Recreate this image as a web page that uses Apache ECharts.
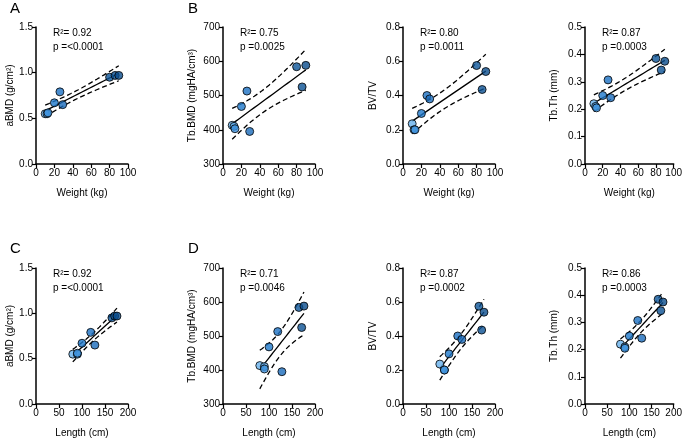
<!DOCTYPE html>
<html><head><meta charset="utf-8">
<script src="https://cdn.jsdelivr.net/npm/echarts@6/dist/echarts.min.js"></script>
<style>html,body{margin:0;padding:0;background:#fff}#c{width:685px;height:439px}</style>
</head><body><div id="c"></div>
<script>
// ---- data (one entry per subject) ----
const weight = [10, 12, 13, 20, 26, 29, 80, 86, 90];
const lengthCm = [80, 90, 90, 100, 119, 128, 165, 171, 176];
const aBMD = [0.55, 0.55, 0.56, 0.67, 0.79, 0.65, 0.95, 0.97, 0.97];
const tbBMD = [413, 410, 403, 468, 513, 395, 584, 525, 588];
const bvtv = [0.235, 0.20, 0.20, 0.295, 0.40, 0.38, 0.575, 0.435, 0.54];
const tbTh = [0.22, 0.21, 0.205, 0.25, 0.307, 0.242, 0.385, 0.343, 0.375];

const r2Weight = ['0.92', '0.75', '0.80', '0.87'];
const pWeight = ['<0.0001', '0.0025', '0.0011', '0.0003'];
const r2Length = ['0.92', '0.71', '0.87', '0.86'];
const pLength = ['<0.0001', '0.0046', '0.0002', '0.0003'];

const panelLetters = ['A', 'B', 'C', 'D'];
const xNames = ['Weight (kg)', 'Length (cm)'];
const yNames = ['aBMD (g/cm²)', 'Tb.BMD (mgHA/cm³)', 'BV/TV', 'Tb.Th (mm)'];

// ---- style ----
const pointColors = ['#66B0EC', '#5AA6E6', '#3A8FDB', '#1E78CB', '#1B71C3', '#1A6BBB', '#0C5598', '#0B5193', '#0A4C8C'];
const FONT = 'Liberation Sans, Arial, sans-serif';

const yVals = [aBMD, tbBMD, bvtv, tbTh];
const yAxisCfg = [
  {min: 0, max: 1.5, interval: 0.5, dec: 1, gap: 21},
  {min: 300, max: 700, interval: 100, dec: 0, gap: 26},
  {min: 0, max: 0.8, interval: 0.2, dec: 1, gap: 25},
  {min: 0, max: 0.5, interval: 0.1, dec: 1, gap: 26}
];
const xAxisCfg = [
  {min: 0, max: 100, interval: 20},
  {min: 0, max: 200, interval: 50}
];
const lefts = [36, 223, 403, 585];
const tops = [27, 268];
const W = 92, H = 137;

function regress(xs, ys) {
  const n = xs.length;
  const mx = xs.reduce((a, b) => a + b, 0) / n;
  const my = ys.reduce((a, b) => a + b, 0) / n;
  let sxx = 0, sxy = 0;
  for (let i = 0; i < n; i++) { sxx += (xs[i] - mx) ** 2; sxy += (xs[i] - mx) * (ys[i] - my); }
  const b = sxy / sxx, a = my - b * mx;
  let sse = 0;
  for (let i = 0; i < n; i++) sse += (ys[i] - a - b * xs[i]) ** 2;
  const s = Math.sqrt(sse / (n - 2));
  const t = 2.365; // df = 7
  const x0 = Math.min(...xs), x1 = Math.max(...xs);
  const fit = [], lo = [], hi = [];
  const steps = 40;
  for (let k = 0; k <= steps; k++) {
    const x = x0 + (x1 - x0) * k / steps;
    const y = a + b * x;
    const se = s * Math.sqrt(1 / n + (x - mx) ** 2 / sxx);
    fit.push([x, y]); lo.push([x, y - t * se]); hi.push([x, y + t * se]);
  }
  return {fit, lo, hi};
}

const grid = [], xAxis = [], yAxis = [], series = [], graphic = [];
let gi = 0;
for (let row = 0; row < 2; row++) {
  const xs = row === 0 ? weight : lengthCm;
  for (let col = 0; col < 4; col++) {
    const yc = yAxisCfg[col], xc = xAxisCfg[row];
    grid.push({left: lefts[col], top: tops[row], width: W, height: H, containLabel: false});
    xAxis.push({
      type: 'value', gridIndex: gi, min: xc.min, max: xc.max, interval: xc.interval,
      name: xNames[row], nameLocation: 'middle', nameGap: 24,
      nameTextStyle: {fontFamily: FONT, fontSize: 10, color: '#000'},
      axisLine: {show: true, lineStyle: {color: '#000', width: 1.5}},
      axisTick: {show: true, length: 4, lineStyle: {color: '#000', width: 1.2}},
      axisLabel: {fontFamily: FONT, fontSize: 10, color: '#000', margin: 4},
      splitLine: {show: false}
    });
    yAxis.push({
      type: 'value', gridIndex: gi, min: yc.min, max: yc.max, interval: yc.interval,
      name: yNames[col], nameLocation: 'middle', nameGap: yc.gap,
      nameTextStyle: {fontFamily: FONT, fontSize: 10, color: '#000'},
      axisLine: {show: true, lineStyle: {color: '#000', width: 1.5}},
      axisTick: {show: true, length: 4, lineStyle: {color: '#000', width: 1.2}},
      axisLabel: {fontFamily: FONT, fontSize: 10, color: '#000', margin: 3,
        formatter: v => v.toFixed(yc.dec)},
      splitLine: {show: false}
    });
    const ys = yVals[col];
    const reg = regress(xs, ys);
    const lineBase = {type: 'line', xAxisIndex: gi, yAxisIndex: gi, showSymbol: false, symbol: 'none', silent: true, z: 2};
    series.push(Object.assign({}, lineBase, {data: reg.fit, lineStyle: {color: '#000', width: 1.3}}));
    series.push(Object.assign({}, lineBase, {data: reg.lo, lineStyle: {color: '#000', width: 1.3, type: [5, 3]}}));
    series.push(Object.assign({}, lineBase, {data: reg.hi, lineStyle: {color: '#000', width: 1.3, type: [5, 3]}}));
    series.push({
      type: 'scatter', xAxisIndex: gi, yAxisIndex: gi, symbolSize: 8, z: 3,
      data: xs.map((x, i) => ({value: [x, ys[i]], itemStyle: {color: pointColors[i], borderColor: '#000', borderWidth: 1}}))
    });
    const r2 = row === 0 ? r2Weight[col] : r2Length[col];
    const p = row === 0 ? pWeight[col] : pLength[col];
    graphic.push({type: 'text', left: lefts[col] + 17, top: tops[row] + 1,
      style: {text: 'R²= ' + r2, font: '10px ' + FONT, fill: '#000'}});
    graphic.push({type: 'text', left: lefts[col] + 17, top: tops[row] + 15,
      style: {text: 'p =' + p, font: '10px ' + FONT, fill: '#000'}});
    gi++;
  }
}
graphic.push({type: 'text', left: 10, top: 1, style: {text: panelLetters[0], font: '15px ' + FONT, fill: '#000'}});
graphic.push({type: 'text', left: 188, top: 1, style: {text: panelLetters[1], font: '15px ' + FONT, fill: '#000'}});
graphic.push({type: 'text', left: 10, top: 241, style: {text: panelLetters[2], font: '15px ' + FONT, fill: '#000'}});
graphic.push({type: 'text', left: 188, top: 241, style: {text: panelLetters[3], font: '15px ' + FONT, fill: '#000'}});

const chart = echarts.init(document.getElementById('c'), null, {renderer: 'canvas'});
chart.setOption({animation: false, backgroundColor: '#fff', grid, xAxis, yAxis, series, graphic});
</script></body></html>
